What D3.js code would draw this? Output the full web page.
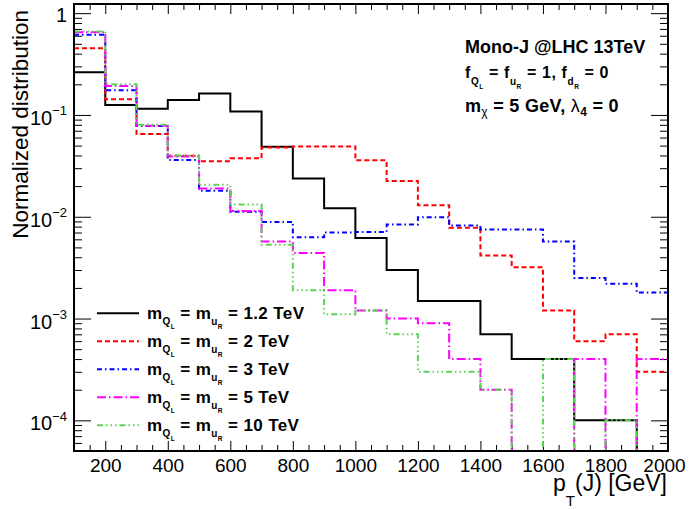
<!DOCTYPE html>
<html>
<head>
<meta charset="utf-8">
<script src="https://cdn.jsdelivr.net/npm/d3@7"></script>
<style>
body{margin:0;background:#fff;}
svg{display:block;font-family:"Liberation Sans",Arial,Helvetica,sans-serif;}
text{white-space:pre;}
</style>
</head>
<body>
<svg width="690" height="509"></svg>
<script>
// bin edges of the pT(J) histograms, GeV
var binEdges=[100,200,300,400,500,600,700,800,900,1000,1100,1200,1300,1400,1500,1600,1700,1800,1900,2000];

// normalized distribution per bin, one array per mass (0 = empty bin)
var h1p2=[0.263,0.125,0.115,0.14,0.162,0.108,0.0488,0.0238,0.0121,0.0062,0.0030,0.00149,0.00149,0.0007,0.0004,0.0004,0.0001,0.0001,0];
var h2=[0.453,0.143,0.065,0.0398,0.0351,0.0375,0.0478,0.049,0.049,0.0358,0.0225,0.013,0.0078,0.00417,0.0032,0.0012,0.0006,0.0007,0.0003];
var h3=[0.612,0.175,0.078,0.036,0.018,0.0112,0.0089,0.0063,0.0070,0.0071,0.0084,0.0099,0.0082,0.0075,0.0075,0.0057,0.0025,0.0022,0.0018];
var h5=[0.65,0.193,0.0785,0.039,0.019,0.0114,0.0057,0.0044,0.0019,0.0012,0.0010,0.0009,0.0004,0.0002,0,0,0.0004,0,0.0004];
var h10=[0.66,0.2,0.08,0.04,0.0206,0.0132,0.0053,0.0019,0.0011,0.0012,0.0007,0.0003,0.0003,0.0002,0,0.0004,0,0.0001,0];

var massLabels=["1.2","2","3","5","10"];

var xTickValues=[200,400,600,800,1000,1200,1400,1600,1800,2000];
var yDecades=[1e-4,1e-3,1e-2,1e-1,1];
var yDecadeExp=["\u22124","\u22123","\u22122","\u22121",""];

// layout
var plotLeft=74, plotRight=668, plotTop=4, plotBottom=451;
var yMin=5e-5, yMax=1.23;

var svg=d3.select("svg");

var xScale=d3.scaleLinear().domain([100,2000]).range([plotLeft,plotRight]);
var yScale=d3.scaleLog().domain([yMin,yMax]).range([plotBottom,plotTop]);

svg.append("defs").append("clipPath").attr("id","clip")
  .append("rect")
    .attr("x",plotLeft).attr("y",plotTop)
    .attr("width",plotRight-plotLeft).attr("height",plotBottom-plotTop);

// ---- ticks ----
var xMinor=d3.range(100,2001,50).filter(d=>d%200!==0);
var yMinor=yScale.ticks().filter(d=>yDecades.indexOf(d)<0 && d<yMax);

function tickStyle(g){
  g.select(".domain").remove();
  g.selectAll(".tick line").attr("stroke","#000").attr("stroke-width",1);
}

svg.append("g").attr("transform","translate(0,"+plotBottom+")")
  .call(d3.axisBottom(xScale).tickValues(xTickValues).tickSize(-10).tickPadding(8).tickFormat(d3.format("d")))
  .call(tickStyle)
  .call(g=>g.selectAll("text")
    .attr("font-family","Liberation Sans, Arial, sans-serif")
    .attr("font-size",19).attr("fill","#000")
    .attr("x",d=>d===2000?-4:0));
svg.append("g").attr("transform","translate(0,"+plotBottom+")")
  .call(d3.axisBottom(xScale).tickValues(xMinor).tickSize(-6).tickFormat(""))
  .call(tickStyle);
svg.append("g").attr("transform","translate(0,"+plotTop+")")
  .call(d3.axisTop(xScale).tickValues(xTickValues).tickSize(-10).tickFormat(""))
  .call(tickStyle);
svg.append("g").attr("transform","translate(0,"+plotTop+")")
  .call(d3.axisTop(xScale).tickValues(xMinor).tickSize(-6).tickFormat(""))
  .call(tickStyle);

svg.append("g").attr("transform","translate("+plotLeft+",0)")
  .call(d3.axisLeft(yScale).tickValues(yDecades).tickSize(-17).tickFormat(""))
  .call(tickStyle);
svg.append("g").attr("transform","translate("+plotLeft+",0)")
  .call(d3.axisLeft(yScale).tickValues(yMinor).tickSize(-8).tickFormat(""))
  .call(tickStyle);
svg.append("g").attr("transform","translate("+plotRight+",0)")
  .call(d3.axisRight(yScale).tickValues(yDecades).tickSize(-17).tickFormat(""))
  .call(tickStyle);
svg.append("g").attr("transform","translate("+plotRight+",0)")
  .call(d3.axisRight(yScale).tickValues(yMinor).tickSize(-8).tickFormat(""))
  .call(tickStyle);

// y labels 10^n
yDecades.forEach(function(d,i){
  var t=svg.append("text")
    .attr("x",67)
    .attr("y",yScale(d)+(yDecadeExp[i]===""?8.5:10))
    .attr("text-anchor","end")
    .attr("font-size",20);
  if(yDecadeExp[i]===""){
    t.text("1");
  } else {
    t.append("tspan").text("10");
    t.append("tspan").attr("font-size",13).attr("dy",-9.5).text(yDecadeExp[i]);
  }
});

// writes text pieces with sub / subsub levels, using relative shifts
function richText(sel,pieces){
  var cur=0;
  pieces.forEach(function(p){
    var ts=sel.append("tspan").text(p.t).attr("dy",p.off-cur);
    cur=p.off;
    if(p.size) ts.attr("font-size",p.size);
    if(p.weight) ts.attr("font-weight",p.weight);
  });
  return sel;
}

// axis titles
svg.append("text")
  .attr("transform","rotate(-90)")
  .attr("x",-10).attr("y",28)
  .attr("text-anchor","end")
  .attr("font-size",22.5)
  .text("Normalized distribution");

richText(svg.append("text").attr("x",667).attr("y",491).attr("text-anchor","end").attr("font-size",23),
  [{t:"p",off:0},{t:"T",off:15,size:15},{t:"(J) [GeV]",off:0}]);

// ---- histograms ----
var series=[
  {vals:h1p2, color:"#000000", dash:null},
  {vals:h2,   color:"#ff0000", dash:"5,3"},
  {vals:h3,   color:"#0000ff", dash:"5,3,1.5,3"},
  {vals:h5,   color:"#ff00ff", dash:"9,3,1.5,3"},
  {vals:h10,  color:"#59d454", dash:"6,3,1.5,3,1.5,3,1.5,3"}
];

var stepLine=d3.line()
  .x(d=>xScale(d[0]))
  .y(d=>yScale(Math.max(d[1],yMin)))
  .curve(d3.curveStepAfter);

svg.append("g").attr("clip-path","url(#clip)")
  .selectAll("path")
  .data(series)
  .enter()
  .append("path")
    .attr("d",s=>stepLine(binEdges.map((e,i)=>[e,s.vals[Math.min(i,s.vals.length-1)]])))
    .attr("fill","none")
    .attr("stroke",s=>s.color)
    .attr("stroke-width",2)
    .attr("stroke-dasharray",s=>s.dash);

// frame
svg.append("rect")
  .attr("x",plotLeft).attr("y",plotTop)
  .attr("width",plotRight-plotLeft).attr("height",plotBottom-plotTop)
  .attr("fill","none").attr("stroke","#000").attr("stroke-width",2);

// ---- legend ----
var legend=svg.append("g").selectAll("g")
  .data(series)
  .enter()
  .append("g")
    .attr("transform",(s,i)=>"translate(0,"+(319.3+28*i)+")");

legend.append("line")
  .attr("x1",97).attr("x2",139).attr("y1",-6).attr("y2",-6)
  .attr("stroke",s=>s.color).attr("stroke-width",2)
  .attr("stroke-dasharray",s=>s.dash);

legend.each(function(s,i){
  richText(d3.select(this).append("text")
      .attr("x",147).attr("y",0)
      .attr("font-size",17).attr("font-weight","bold")
      .attr("letter-spacing",0.4),
    [{t:"m",off:0},{t:"Q",off:6,size:10},{t:"L",off:10,size:6.5},
     {t:" = m",off:0},{t:"u",off:6,size:10},{t:"R",off:10,size:6.5},
     {t:" = "+massLabels[i]+" TeV",off:0}]);
});

// ---- info text ----
svg.append("text")
  .attr("x",465).attr("y",53)
  .attr("font-size",18).attr("font-weight","bold")
  .text("Mono-J @LHC 13TeV");

richText(svg.append("text").attr("x",465).attr("y",77.5)
    .attr("font-size",16).attr("font-weight","bold").attr("letter-spacing",0.6),
  [{t:"f",off:0},{t:"Q",off:7,size:10},{t:"L",off:11,size:6.5},
   {t:" = f",off:0},{t:"u",off:7,size:10},{t:"R",off:11,size:6.5},
   {t:" = 1, f",off:0},{t:"d",off:7,size:10},{t:"R",off:11,size:6.5},
   {t:" = 0",off:0}]);

richText(svg.append("text").attr("x",465).attr("y",112)
    .attr("font-size",18).attr("font-weight","bold").attr("letter-spacing",0.3),
  [{t:"m",off:0},{t:"\u03c7",off:4,size:12,weight:"normal"},
   {t:" = 5 GeV, ",off:0},{t:"\u03bb",off:0,weight:"normal"},{t:"4",off:3.5,size:12},
   {t:" = 0",off:0}]);
</script>
</body>
</html>
